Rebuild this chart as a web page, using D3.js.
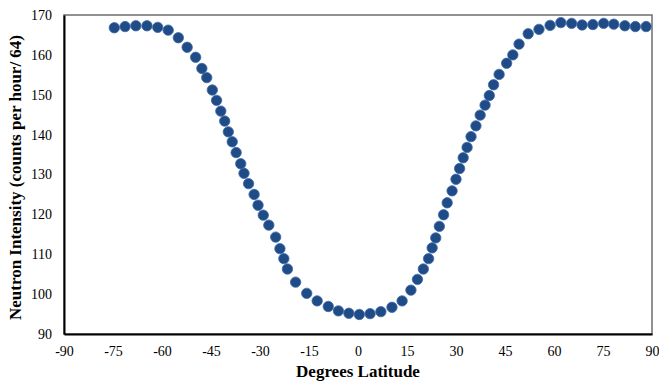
<!DOCTYPE html>
<html>
<head>
<meta charset="utf-8">
<script src="https://cdn.jsdelivr.net/npm/d3@7"></script>
<style>
  body { margin: 0; background: #fff; }
  svg { display: block; }
</style>
</head>
<body>
<svg id="chart" width="659" height="382"></svg>
<script>
// latitude (deg) and neutron intensity
const latitude = [
  -74.6, -71.3, -68.0, -64.6, -61.3, -58.1, -55.0, -52.3, -49.7, -47.8,
  -46.3, -44.6, -43.3, -42.0, -40.8, -39.7, -38.5, -37.3, -35.9, -34.9,
  -33.5, -31.8, -30.6, -29.0, -27.3, -25.2, -23.9, -22.7, -21.6, -19.1,
  -15.7, -12.5, -9.1, -6.0, -2.8, 0.4, 3.7, 7.0, 10.4, 13.5,
  16.2, 18.2, 20.0, 21.6, 22.7, 23.8, 24.9, 26.2, 27.3, 28.8,
  30.0, 31.1, 32.2, 33.4, 34.6, 36.1, 37.4, 38.9, 40.2, 41.5,
  43.2, 45.5, 47.4, 49.3, 52.1, 55.4, 58.8, 62.1, 65.4, 68.6,
  71.9, 75.2, 78.3, 81.7, 84.9, 88.2
];
const intensity = [
  166.8, 167.1, 167.3, 167.3, 166.9, 166.2, 164.3, 161.9, 159.4, 156.6,
  154.3, 151.2, 148.6, 145.9, 143.4, 140.7, 138.2, 135.5, 132.7, 130.3,
  127.7, 125.0, 122.3, 119.8, 117.3, 114.3, 111.4, 108.9, 106.3, 103.0,
  100.2, 98.3, 96.9, 95.8, 95.2, 94.9, 95.1, 95.6, 96.7, 98.3,
  101.0, 103.7, 106.3, 108.9, 111.6, 114.1, 117.0, 119.9, 122.9, 125.9,
  128.8, 131.5, 134.2, 136.8, 139.5, 142.2, 144.9, 147.4, 149.8, 152.5,
  155.1, 157.9, 160.0, 162.7, 165.3, 166.4, 167.4, 168.1, 167.9, 167.5,
  167.6, 167.9, 167.7, 167.3, 167.1, 167.1
];
const xTicks = [-90, -75, -60, -45, -30, -15, 0, 15, 30, 45, 60, 75, 90];
const yTicks = [90, 100, 110, 120, 130, 140, 150, 160, 170];

const points = latitude.map((d, i) => ({ lat: d, val: intensity[i] }));

const svg = d3.select('#chart');
const margin = { left: 64, right: 7, top: 15, bottom: 48 };
const width = 659, height = 382;
const font = '"Liberation Serif", "Times New Roman", serif';

const x = d3.scaleLinear().domain([-90, 90]).range([margin.left, width - margin.right]);
const y = d3.scaleLinear().domain([90, 170]).range([height - margin.bottom, margin.top]);

// plot area border
svg.append('rect')
  .attr('x', x(-90)).attr('y', y(170))
  .attr('width', x(90) - x(-90)).attr('height', y(90) - y(170))
  .attr('fill', 'none')
  .attr('stroke', '#6e6e6e')
  .attr('stroke-width', 1.5);

// plain hyphen for negatives, like the original
const plain = d => String(d);

const xAxis = svg.append('g')
  .attr('transform', `translate(0,${y(90)})`)
  .call(d3.axisBottom(x).tickValues(xTicks).tickFormat(plain).tickSize(0).tickPadding(12));
const yAxis = svg.append('g')
  .attr('transform', `translate(${x(-90)},0)`)
  .call(d3.axisLeft(y).tickValues(yTicks).tickFormat(plain).tickSize(0).tickPadding(12));

[xAxis, yAxis].forEach(g => {
  g.select('.domain').attr('stroke', '#000').attr('stroke-width', 2);
  g.selectAll('text')
    .attr('font-family', font)
    .attr('font-size', 14)
    .attr('fill', '#000');
});

svg.append('g')
  .selectAll('circle')
  .data(points)
  .enter()
  .append('circle')
  .attr('cx', d => x(d.lat))
  .attr('cy', d => y(d.val))
  .attr('r', 5.2)
  .attr('fill', '#1f4b86')
  .attr('stroke', '#3d6aa8')
  .attr('stroke-width', 0.8);

svg.append('text')
  .attr('x', (x(-90) + x(90)) / 2)
  .attr('y', 377)
  .attr('text-anchor', 'middle')
  .attr('font-family', font)
  .attr('font-weight', 'bold')
  .attr('font-size', 17)
  .text('Degrees Latitude');

svg.append('text')
  .attr('transform', `translate(21,${(y(90) + y(170)) / 2 + 3}) rotate(-90)`)
  .attr('text-anchor', 'middle')
  .attr('font-family', font)
  .attr('font-weight', 'bold')
  .attr('font-size', 17)
  .text('Neutron Intensity (counts per hour/ 64)');
</script>
</body>
</html>
